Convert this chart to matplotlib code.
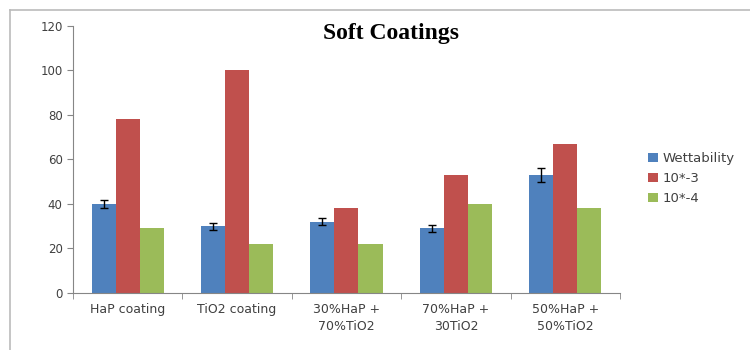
import matplotlib

matplotlib.use("Agg")
import matplotlib.pyplot as plt
from matplotlib.lines import Line2D
import numpy as np

categories = ["HaP coating", "TiO2 coating", "30%HaP +\n70%TiO2",
              "70%HaP +\n30TiO2", "50%HaP +\n50%TiO2"]
series_names = ["Wettability", "10*-3", "10*-4"]
wettability = [40, 30, 32, 29, 53]
wettability_err = [2, 1.5, 1.5, 1.5, 3]
e3 = [78, 100, 38, 53, 67]
e4 = [29, 22, 22, 40, 38]
y_ticks = [0, 20, 40, 60, 80, 100, 120]

colors = ["#4F81BD", "#C0504D", "#9BBB59"]

fig = plt.figure(figsize=(7.5, 3.5), dpi=100)
ax = fig.add_axes([0.0973, 0.1629, 0.7293, 0.7629])

x = np.arange(len(categories))
w = 0.22
ax.bar(x - w, wettability, w, color=colors[0], label=series_names[0],
       yerr=wettability_err, capsize=3, error_kw=dict(ecolor="black", elinewidth=1, capthick=1))
ax.bar(x, e3, w, color=colors[1], label=series_names[1])
ax.bar(x + w, e4, w, color=colors[2], label=series_names[2])

ax.set_xlim(-0.5, len(categories) - 0.5)
ax.set_ylim(0, 120)
ax.set_yticks(y_ticks)
ax.set_xticks(x)
ax.set_xticklabels(categories, fontsize=9, color="#404040", linespacing=1.4)
ax.set_xticks(np.arange(len(categories) + 1) - 0.5, minor=True)
ax.tick_params(axis="x", which="major", length=0, pad=7)
ax.tick_params(axis="x", which="minor", length=4, color="#868686")
ax.tick_params(axis="y", length=4, color="#868686", labelsize=8.5, labelcolor="#404040")

for s in ["top", "right"]:
    ax.spines[s].set_visible(False)
for s in ["left", "bottom"]:
    ax.spines[s].set_color("#868686")

fig.text(0.521, 0.905, "Soft Coatings", fontname="Liberation Serif",
         fontweight="bold", fontsize=17, ha="center", va="center")

leg = fig.legend(loc="upper left", bbox_to_anchor=(0.848, 0.60), frameon=False,
                 handlelength=0.8, handleheight=0.7, handletextpad=0.3,
                 labelspacing=0.55, prop={"size": 9.5})
for t in leg.get_texts():
    t.set_color("#404040")

# outer chart frame
fig.add_artist(Line2D([10 / 750, 10 / 750], [0, 1 - 10 / 350], color="#BBBBBB", lw=1.2))
fig.add_artist(Line2D([10 / 750, 1], [1 - 10 / 350, 1 - 10 / 350], color="#BBBBBB", lw=1.2))

fig.savefig("out.png", dpi=100)
